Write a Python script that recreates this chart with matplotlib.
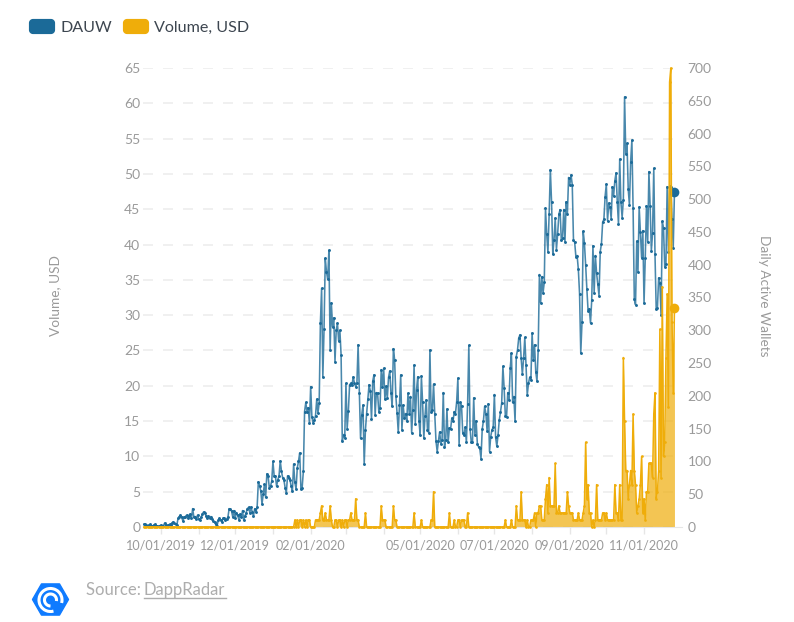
import matplotlib
matplotlib.use('Agg')
import matplotlib.pyplot as plt
import matplotlib.dates as mdates
from matplotlib.patches import FancyBboxPatch, RegularPolygon, Arc
import pandas as pd

plt.rcParams['font.family'] = ['Lato', 'DejaVu Sans']

start_date = '2019-09-17'

# daily active wallets, right axis
dauw = [
    4, 4, 3, 2, 3, 4, 2, 1, 3, 4,
    2, 1, 1, 2, 3, 2, 2, 6, 3, 2,
    3, 4, 3, 6, 8, 6, 4, 3, 13, 16,
    18, 15, 9, 15, 16, 18, 14, 17, 20, 13,
    28, 15, 16, 12, 18, 12, 10, 15, 20, 23,
    22, 17, 13, 17, 14, 16, 12, 9, 7, 4,
    1, 10, 13, 11, 8, 13, 14, 10, 12, 15,
    28, 27, 24, 15, 25, 14, 22, 18, 11, 20,
    15, 25, 10, 17, 22, 28, 30, 22, 30, 23,
    17, 28, 23, 30, 69, 63, 55, 35, 50, 65,
    45, 81, 78, 60, 62, 70, 100, 78, 78, 62,
    72, 78, 101, 85, 75, 72, 60, 52, 78, 75,
    72, 62, 55, 96, 68, 58, 90, 100, 113, 58,
    60, 85, 176, 190, 176, 182, 158, 214, 168, 159,
    163, 170, 195, 174, 189, 311, 364, 228, 302, 410,
    389, 378, 422, 270, 342, 305, 319, 252, 300, 311,
    284, 300, 263, 131, 141, 136, 219, 150, 177, 217,
    219, 217, 229, 219, 214, 219, 278, 204, 135, 171,
    186, 96, 148, 173, 195, 217, 208, 164, 222, 232,
    171, 205, 204, 176, 181, 240, 214, 242, 195, 215,
    196, 228, 238, 204, 184, 272, 255, 200, 174, 145,
    186, 232, 148, 186, 166, 173, 161, 204, 173, 199,
    144, 179, 247, 157, 209, 229, 162, 140, 230, 190,
    135, 170, 194, 148, 144, 270, 176, 178, 218, 172,
    131, 115, 131, 145, 127, 133, 205, 122, 133, 180,
    129, 151, 149, 166, 161, 176, 173, 191, 227, 125,
    190, 185, 143, 140, 152, 129, 188, 277, 150, 129,
    129, 197, 140, 162, 127, 122, 120, 104, 149, 162,
    184, 173, 147, 188, 115, 138, 148, 152, 202, 137,
    123, 140, 163, 175, 189, 245, 212, 170, 168, 205,
    194, 242, 265, 190, 199, 161, 260, 270, 288, 293,
    257, 233, 257, 289, 247, 201, 219, 228, 224, 296,
    254, 278, 237, 222, 270, 385, 342, 382, 357, 373,
    486, 447, 419, 477, 545, 495, 416, 438, 471, 423,
    447, 477, 484, 437, 440, 484, 435, 496, 478, 533,
    522, 537, 522, 438, 434, 412, 414, 393, 356, 265,
    312, 451, 433, 400, 363, 330, 333, 311, 346, 429,
    357, 414, 387, 370, 353, 420, 432, 465, 469, 504,
    523, 467, 494, 488, 470, 519, 505, 528, 540, 496,
    462, 561, 495, 472, 499, 656, 569, 585, 515, 491,
    557, 590, 486, 347, 339, 436, 389, 488, 450, 411,
    452, 341, 411, 490, 435, 542, 490, 421, 448, 547,
    416, 332, 334, 380, 372, 323, 466, 456, 397, 401,
    519, 420, 520, 519, 470, 426, 511,
]

# volume in usd, left axis
volume = [
    0, 0, 0, 0, 0, 0, 0, 0, 0, 0,
    0, 0, 0, 0, 0, 0, 0, 0, 0, 0,
    0, 0, 0, 0, 0, 0, 0, 0, 0, 0,
    0, 0, 0, 0, 0, 0, 0, 0, 0, 0,
    0, 0, 0, 0, 0, 0, 0, 0, 0, 0,
    0, 0, 0, 0, 0, 0, 0, 0, 0, 0,
    0, 0, 0, 0, 0, 0, 0, 0, 0, 0,
    0, 0, 0, 0, 0, 0, 0, 0, 0, 0,
    0, 0, 0, 0, 0, 0, 0, 0, 0, 0,
    0, 0, 0, 0, 0, 0, 0, 0, 0, 0,
    0, 0, 0, 0, 0, 0, 0, 0, 0, 0,
    0, 0, 0, 0, 0, 0, 0, 0, 0, 0,
    0, 0, 0, 0, 1, 0, 1, 0, 1, 1,
    0, 1, 0, 1, 0, 1, 1, 0, 0, 0,
    0, 1, 1, 1, 1, 2, 3, 1, 1, 2,
    1, 1, 1, 3, 1, 0, 0, 1, 1, 0,
    1, 1, 0, 1, 0, 1, 1, 0, 1, 1,
    2, 1, 1, 1, 4, 1, 1, 0, 0, 0,
    0, 0, 2, 0, 0, 0, 0, 0, 0, 0,
    0, 0, 0, 0, 0, 3, 1, 1, 1, 0,
    0, 0, 0, 0, 0, 3, 1, 1, 0, 0,
    0, 0, 0, 0, 0, 0, 0, 0, 0, 0,
    0, 0, 2, 0, 0, 0, 0, 0, 1, 0,
    0, 0, 0, 0, 0, 0, 1, 1, 5, 0,
    0, 0, 0, 0, 0, 0, 0, 0, 0, 0,
    0, 2, 0, 0, 0, 1, 0, 0, 1, 1,
    0, 1, 1, 1, 0, 0, 2, 0, 0, 0,
    0, 0, 0, 0, 0, 0, 0, 0, 0, 0,
    0, 0, 0, 0, 0, 0, 0, 0, 0, 0,
    0, 0, 0, 0, 0, 0, 0, 1, 0, 0,
    0, 0, 1, 0, 0, 0, 3, 1, 1, 1,
    5, 1, 1, 1, 0, 1, 0, 0, 1, 1,
    1, 2, 0, 2, 2, 3, 3, 1, 1, 1,
    4, 6, 2, 7, 3, 3, 3, 3, 9, 2,
    2, 3, 2, 2, 2, 2, 2, 2, 5, 3,
    2, 2, 2, 1, 1, 1, 1, 2, 1, 1,
    1, 2, 3, 12, 4, 6, 2, 2, 0, 1,
    0, 1, 6, 1, 1, 1, 1, 2, 2, 1,
    2, 1, 1, 1, 1, 1, 1, 6, 2, 2,
    1, 6, 1, 1, 24, 15, 8, 8, 4, 6,
    8, 6, 16, 8, 6, 2, 3, 4, 6, 10,
    2, 4, 1, 5, 5, 9, 9, 9, 7, 16,
    19, 4, 5, 8, 28, 7, 34, 10, 12, 24,
    33, 17, 63, 65, 29, 19, 31,
]

left_ticks = [0, 5, 10, 15, 20, 25, 30, 35, 40, 45, 50, 55, 60, 65]
right_ticks = [0, 50, 100, 150, 200, 250, 300, 350, 400, 450, 500, 550, 600, 650, 700]
labelled_months = ['10/01/2019', '12/01/2019', '02/01/2020', '05/01/2020',
                   '07/01/2020', '09/01/2020', '11/01/2020']

BLUE = '#1b6a98'
YELLOW = '#efad0a'
GREY = '#9a9a9a'
W, H = 794, 622

dias_dauw = pd.date_range(start_date, periods=len(dauw), freq='D')
dias_vol = pd.date_range(start_date, periods=len(volume), freq='D')

fig = plt.figure(figsize=(W / 100, H / 100), dpi=100)
pos = [143 / W, (H - 527) / H, (682 - 143) / W, (527 - 68) / H]

# grid goes on its own axes underneath so it stays behind the blue line
fundo = fig.add_axes(pos, zorder=0)
ax2 = fig.add_axes(pos, zorder=1)
ax = fig.add_axes(pos, zorder=2)
ax2.patch.set_visible(False)
ax.patch.set_visible(False)

ax2.plot(dias_dauw, dauw, color=BLUE, lw=1.15, alpha=0.8, clip_on=False, zorder=3)
ax2.plot(dias_dauw, dauw, ls='none', marker='o', ms=2.1, mew=0, mfc=BLUE, clip_on=False, zorder=3)
ax2.plot(dias_dauw[-1], dauw[-1], 'o', color=BLUE, ms=7, mew=0, clip_on=False, zorder=4)
ax.fill_between(dias_vol, 0, volume, color=YELLOW, alpha=0.7, lw=0, zorder=2)
ax.plot(dias_vol, volume, color=YELLOW, lw=1.1, marker='o', ms=1.9, mew=0, clip_on=False, zorder=3)
ax.plot(dias_vol[-1], volume[-1], 'o', color=YELLOW, ms=7, mew=0, clip_on=False, zorder=4)

x0 = mdates.date2num(dias_dauw[0])
for a in (fundo, ax, ax2):
    a.set_xlim(x0 - 0.8, x0 + 442.2)
    a.set_xticks([])
    for lado in ('top', 'left', 'right', 'bottom'):
        a.spines[lado].set_visible(False)

ax.set_ylim(0, 65)
ax2.set_ylim(0, 700)
fundo.set_ylim(0, 65)
fundo.set_yticks(left_ticks)
fundo.set_yticklabels([])
fundo.tick_params(axis='y', length=0)
fundo.grid(axis='y', color='#eeeeee', lw=1.2, ls=(0, (6, 6)))

ax.set_yticks(left_ticks)
ax2.yaxis.tick_right()
ax2.set_yticks(right_ticks)

meses = pd.date_range('2019-10-01', '2020-11-01', freq='MS')
nomes = [m.strftime('%m/%d/%Y') if m.strftime('%m/%d/%Y') in labelled_months else '' for m in meses]
ax.set_xticks(meses)
ax.set_xticklabels(nomes)
ax.spines['bottom'].set_visible(True)
ax.spines['bottom'].set_color('#e6e6e6')
ax.set_axisbelow(True)

ax.tick_params(axis='x', length=5, width=1, color='#e6e6e6', labelcolor=GREY, labelsize=9.1, pad=4)
ax.tick_params(axis='y', length=0, labelcolor=GREY, labelsize=10, pad=2)
ax2.tick_params(axis='y', length=0, labelcolor=GREY, labelsize=10, pad=4)

# overlay in pixel coordinates for legend, axis titles and source
ov = fig.add_axes([0, 0, 1, 1], zorder=10)
ov.set_xlim(0, W)
ov.set_ylim(H, 0)
ov.axis('off')

for x, cor, nome, tx in ((29, BLUE, 'DAUW', 61), (123, YELLOW, 'Volume, USD', 154.5)):
    ov.add_patch(FancyBboxPatch((x + 2, 21), 22, 11, boxstyle='round,pad=0,rounding_size=2',
                                mutation_aspect=1, fc=cor, ec=cor, lw=3, joinstyle='round'))
    ov.text(tx, 27.5, nome, color='#3d4650', fontsize=11.6, va='center', ha='left')

ov.text(55, 296, 'Volume, USD', color=GREY, fontsize=9.8, rotation=90, ha='center', va='center')
ov.text(764, 296, 'Daily Active Wallets', color=GREY, fontsize=9.8, rotation=270, ha='center', va='center')

ov.text(85.5, 590, 'Source: ', color='#adadad', fontsize=12, ha='left', va='center')
ov.text(143.5, 590, 'DappRadar', color='#adadad', fontsize=12, ha='left', va='center')
ov.plot([143.5, 226], [598, 598], color='#adadad', lw=1)

# logo
ov.add_patch(RegularPolygon((50.5, 599.5), 6, radius=18, orientation=0.5236,
                            fc='#0f7bff', ec='#0f7bff', lw=1, joinstyle='round'))
ov.add_patch(Arc((50.5, 600), 23, 23, theta1=75, theta2=375, color='white', lw=2.2))
ov.add_patch(Arc((50.5, 600), 12, 12, theta1=90, theta2=370, color='white', lw=2.2))

fig.savefig('out.png', dpi=100)
